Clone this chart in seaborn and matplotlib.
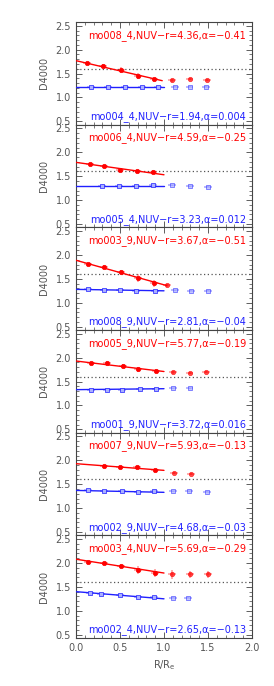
import numpy as np
import pandas as pd
import seaborn as sns
import matplotlib.pyplot as plt
from matplotlib.ticker import MultipleLocator

# red (early) and blue (late) D4000 profiles, one row per panel
red_names = ["mo008_4,NUV\u2212r=4.36,\u03b1=\u22120.41", "mo006_4,NUV\u2212r=4.59,\u03b1=\u22120.25",
             "mo003_9,NUV\u2212r=3.67,\u03b1=\u22120.51", "mo005_9,NUV\u2212r=5.77,\u03b1=\u22120.19",
             "mo007_9,NUV\u2212r=5.93,\u03b1=\u22120.13", "mo003_4,NUV\u2212r=5.69,\u03b1=\u22120.29"]
blue_names = ["mo004_4,NUV\u2212r=1.94,\u03b1=0.004", "mo005_4,NUV\u2212r=3.23,\u03b1=0.012",
              "mo008_9,NUV\u2212r=2.81,\u03b1=\u22120.04", "mo001_9,NUV\u2212r=3.72,\u03b1=0.016",
              "mo002_9,NUV\u2212r=4.68,\u03b1=\u22120.03", "mo002_4,NUV\u2212r=2.65,\u03b1=\u22120.13"]

red_x = [[0.13, 0.31, 0.51, 0.71, 0.89, 1.09, 1.29, 1.49],
         [0.16, 0.32, 0.50, 0.69, 0.87],
         [0.14, 0.32, 0.51, 0.70, 0.89, 1.03],
         [0.17, 0.35, 0.53, 0.71, 0.91, 1.10, 1.29, 1.48],
         [0.32, 0.50, 0.69, 0.90, 1.11, 1.31],
         [0.14, 0.32, 0.51, 0.71, 0.90, 1.09, 1.30, 1.50]]
red_y = [[1.71, 1.66, 1.58, 1.45, 1.38, 1.36, 1.38, 1.37],
         [1.75, 1.71, 1.64, 1.60, 1.59],
         [1.82, 1.75, 1.64, 1.52, 1.41, 1.37],
         [1.89, 1.89, 1.83, 1.76, 1.72, 1.69, 1.67, 1.70],
         [1.89, 1.87, 1.85, 1.79, 1.74, 1.71],
         [2.03, 1.99, 1.93, 1.86, 1.79, 1.76, 1.76, 1.76]]
red_yerr = [[0.02, 0.03, 0.06, 0.06, 0.03, 0.03, 0.02, 0.02],
            [0.02, 0.02, 0.03, 0.03, 0.03],
            [0.02, 0.03, 0.05, 0.09, 0.07, 0.03],
            [0.02, 0.04, 0.03, 0.05, 0.05, 0.03, 0.02, 0.02],
            [0.02, 0.02, 0.02, 0.02, 0.02, 0.02],
            [0.02, 0.03, 0.04, 0.08, 0.09, 0.09, 0.08, 0.08]]
blue_x = [[0.17, 0.36, 0.56, 0.75, 0.93, 1.12, 1.29, 1.48],
          [0.30, 0.49, 0.68, 0.88, 1.09, 1.30, 1.50],
          [0.14, 0.32, 0.50, 0.68, 0.90, 1.12, 1.31, 1.50],
          [0.17, 0.35, 0.52, 0.73, 0.91, 1.10, 1.29],
          [0.14, 0.32, 0.52, 0.70, 0.89, 1.10, 1.28, 1.49],
          [0.16, 0.28, 0.50, 0.71, 0.89, 1.10, 1.27]]
blue_y = [[1.22, 1.22, 1.22, 1.22, 1.22, 1.22, 1.22, 1.22],
          [1.30, 1.30, 1.30, 1.31, 1.31, 1.29, 1.28],
          [1.28, 1.27, 1.26, 1.25, 1.25, 1.26, 1.25, 1.25],
          [1.33, 1.33, 1.33, 1.34, 1.35, 1.36, 1.36],
          [1.37, 1.36, 1.35, 1.34, 1.35, 1.35, 1.35, 1.34],
          [1.37, 1.36, 1.32, 1.29, 1.28, 1.27, 1.27]]

# fitted lines: value at R=0, value at end, end radius
red_fit = [(1.77, 1.35, 0.98), (1.79, 1.53, 1.0), (1.89, 1.36, 1.03),
           (1.93, 1.71, 1.0), (1.93, 1.79, 1.0), (2.08, 1.79, 1.0)]
blue_fit = [(1.22, 1.22, 1.0), (1.30, 1.30, 1.0), (1.28, 1.25, 1.0),
            (1.33, 1.35, 1.0), (1.37, 1.33, 1.0), (1.40, 1.25, 1.0)]

sns.set_style("ticks")
plt.rcParams['font.family'] = ['DejaVu Sans']

RED = "#ff0000"
BLUE = "#2020ff"
GREY = "#555555"
FS = 7.0

fig, axes = plt.subplots(6, 1, figsize=(2.74, 6.86), dpi=100, sharex=True)
fig.subplots_adjust(left=0.277, right=0.92, top=0.968, bottom=0.07, hspace=0)

for i, ax in enumerate(axes):
    for xs, ys, ye, col, mk in [(red_x[i], red_y[i], red_yerr[i], RED, "o"),
                                (blue_x[i], blue_y[i], [0.012] * len(blue_y[i]), BLUE, "s")]:
        xs = np.array(xs)
        ax.errorbar(xs, ys, yerr=ye, xerr=0.045, fmt="none", ecolor=col,
                    alpha=0.35, elinewidth=1.3, zorder=2)
        df = pd.DataFrame({"x": xs, "y": ys, "inner": xs < 1.0})
        face = col if mk == "o" else "#aab0ff"
        sns.scatterplot(data=df[df.inner], x="x", y="y", ax=ax, marker=mk,
                        s=10, linewidth=0.5, edgecolor=col, facecolor=face,
                        zorder=4, legend=False)
        sns.scatterplot(data=df[~df.inner], x="x", y="y", ax=ax, marker=mk,
                        s=10, linewidth=0.5, edgecolor=col, facecolor=face,
                        alpha=0.7, zorder=4, legend=False)
    for fit, col in [(red_fit[i], RED), (blue_fit[i], BLUE)]:
        y0, y1, x1 = fit
        ln = pd.DataFrame({"x": [0.0, x1], "y": [y0, y1]})
        sns.lineplot(data=ln, x="x", y="y", ax=ax, color=col, linewidth=1.0, zorder=3)

    ax.axhline(1.6, color=GREY, linestyle=(0, (1, 2)), linewidth=0.9, zorder=1)
    ax.text(0.965, 0.87, red_names[i], transform=ax.transAxes, ha="right", va="center",
            color=RED, fontsize=FS)
    ax.text(0.965, 0.08, blue_names[i], transform=ax.transAxes, ha="right", va="center",
            color=BLUE, fontsize=FS)

    ax.set_xlim(0, 2.0)
    ax.set_ylim(0.43, 2.58)
    ax.xaxis.set_major_locator(MultipleLocator(0.5))
    ax.xaxis.set_minor_locator(MultipleLocator(0.1))
    ax.yaxis.set_major_locator(MultipleLocator(0.5))
    ax.yaxis.set_minor_locator(MultipleLocator(0.1))
    ax.tick_params(which="both", direction="in", top=True, right=True, colors="#444444",
                   labelcolor="#555555", labelsize=FS)
    ax.tick_params(which="major", length=4, width=0.6)
    ax.tick_params(which="minor", length=2, width=0.5)
    for sp in ax.spines.values():
        sp.set_color("#444444")
        sp.set_linewidth(0.8)
    ax.set_ylabel("D4000", color="#555555", fontsize=FS, labelpad=5)
    ax.set_xlabel("")

axes[-1].set_xlabel("R/R$_{\\rm e}$", color="#555555", fontsize=FS)

fig.savefig("out.png", dpi=100)
